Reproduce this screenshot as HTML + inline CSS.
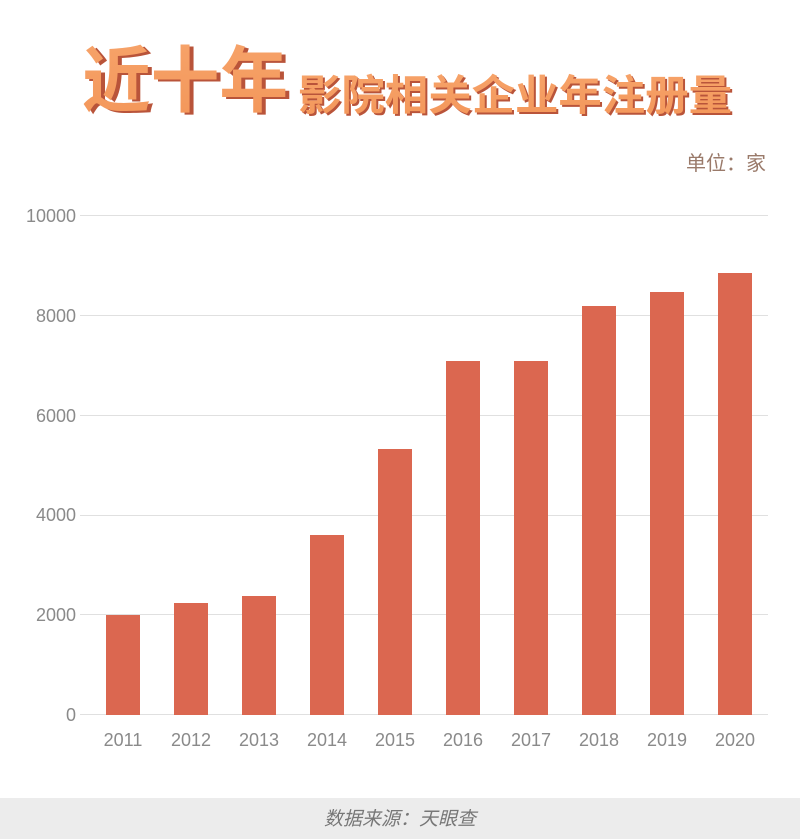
<!DOCTYPE html><html><head><meta charset="utf-8"><style>body{margin:0;width:800px;height:839px;background:#fff;overflow:hidden;font-family:"Liberation Sans","Noto Sans CJK SC",sans-serif}</style></head><body>
<svg width="800" height="839" xmlns="http://www.w3.org/2000/svg" style="position:absolute;left:0;top:0">
<defs><linearGradient id="g" x1="0" y1="0" x2="0" y2="1"><stop offset="0" stop-color="#f7a56c"/><stop offset="1" stop-color="#f39659"/></linearGradient></defs>
<g font-family="Noto Sans CJK SC,sans-serif" font-weight="700">
<text x="86" y="108" font-size="72" fill="#b9543a" textLength="206" lengthAdjust="spacingAndGlyphs">近十年</text>
<text x="82" y="106" font-size="72" fill="url(#g)" textLength="206" lengthAdjust="spacingAndGlyphs">近十年</text>
<text x="300" y="112" font-size="42" fill="#b9543a" textLength="434" lengthAdjust="spacingAndGlyphs">影院相关企业年注册量</text>
<text x="298" y="110" font-size="42" fill="url(#g)" textLength="434" lengthAdjust="spacingAndGlyphs">影院相关企业年注册量</text>
</g>
<text x="766" y="170" font-size="20" fill="#9a7a6a" text-anchor="end">单位：家</text>
<g stroke="#e0e0e0" stroke-width="1">
<line x1="80" x2="768" y1="215.5" y2="215.5"/><line x1="80" x2="768" y1="315.5" y2="315.5"/><line x1="80" x2="768" y1="415.5" y2="415.5"/><line x1="80" x2="768" y1="515.5" y2="515.5"/><line x1="80" x2="768" y1="614.5" y2="614.5"/><line x1="80" x2="768" y1="714.5" y2="714.5"/></g>
<g font-size="18" fill="#8a8a8a" text-anchor="end">
<text x="76" y="222">10000</text><text x="76" y="322">8000</text><text x="76" y="422">6000</text><text x="76" y="521">4000</text><text x="76" y="621">2000</text><text x="76" y="721">0</text></g>
<g fill="#db6750">
<rect x="106" y="615" width="34" height="100"/><rect x="174" y="603" width="34" height="112"/><rect x="242" y="596" width="34" height="119"/><rect x="310" y="535" width="34" height="180"/><rect x="378" y="449" width="34" height="266"/><rect x="446" y="361" width="34" height="354"/><rect x="514" y="361" width="34" height="354"/><rect x="582" y="306" width="34" height="409"/><rect x="650" y="292" width="34" height="423"/><rect x="718" y="273" width="34" height="442"/></g>
<g font-size="18" fill="#8a8a8a" text-anchor="middle">
<text x="123" y="746">2011</text><text x="191" y="746">2012</text><text x="259" y="746">2013</text><text x="327" y="746">2014</text><text x="395" y="746">2015</text><text x="463" y="746">2016</text><text x="531" y="746">2017</text><text x="599" y="746">2018</text><text x="667" y="746">2019</text><text x="735" y="746">2020</text></g>
<rect x="0" y="798" width="800" height="41" fill="#ececec"/>
<text x="400" y="825" font-size="19" fill="#777" font-style="italic" text-anchor="middle">数据来源：天眼查</text>
</svg></body></html>
